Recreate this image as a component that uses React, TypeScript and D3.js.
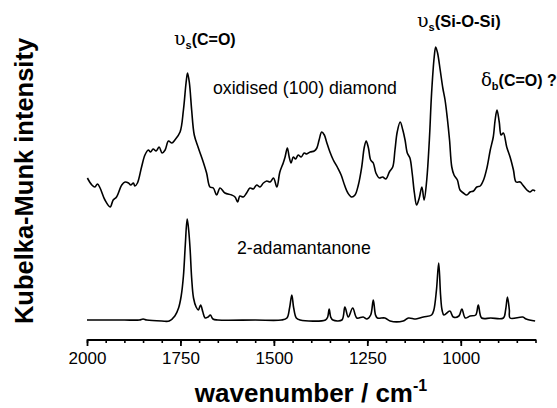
import React, { useRef, useEffect } from 'react';
import * as d3 from 'd3';

// wavenumbers (cm-1) and Kubelka-Munk intensities (arb. units, offset)
const diamondWn = [1999, 1987, 1979, 1972, 1965, 1952, 1938, 1930, 1921, 1907, 1898, 1889, 1883, 1876, 1872, 1865, 1854, 1845, 1836, 1830, 1823, 1815, 1807, 1799, 1791, 1782, 1773, 1765, 1751, 1742, 1735, 1731, 1726, 1720, 1713, 1702, 1689, 1680, 1671, 1662, 1653, 1644, 1631, 1613, 1604, 1597, 1591, 1582, 1573, 1564, 1555, 1546, 1537, 1528, 1519, 1510, 1501, 1492, 1484, 1475, 1470, 1464, 1459, 1454, 1448, 1442, 1435, 1427, 1419, 1412, 1403, 1392, 1385, 1379, 1372, 1365, 1359, 1350, 1341, 1329, 1320, 1311, 1302, 1292, 1283, 1274, 1265, 1258, 1253, 1247, 1241, 1234, 1227, 1218, 1209, 1200, 1191, 1182, 1176, 1170, 1162, 1155, 1149, 1143, 1136, 1130, 1124, 1118, 1111, 1104, 1098, 1091, 1084, 1078, 1071, 1067, 1062, 1055, 1048, 1042, 1036, 1030, 1024, 1018, 1009, 1002, 993, 984, 975, 966, 957, 948, 939, 930, 921, 913, 908, 903, 897, 892, 886, 877, 868, 859, 852, 841, 834, 823, 815, 807, 801];
const diamondKM = [1.62, 1.55, 1.53, 1.56, 1.52, 1.40, 1.33, 1.40, 1.43, 1.55, 1.58, 1.57, 1.55, 1.57, 1.54, 1.57, 1.73, 1.85, 1.90, 1.88, 1.91, 1.89, 1.93, 1.87, 1.90, 1.99, 1.97, 2.00, 2.08, 2.30, 2.57, 2.67, 2.57, 2.30, 2.05, 1.92, 1.78, 1.67, 1.53, 1.52, 1.45, 1.52, 1.47, 1.45, 1.43, 1.38, 1.44, 1.43, 1.47, 1.52, 1.51, 1.55, 1.53, 1.57, 1.59, 1.58, 1.62, 1.53, 1.68, 1.77, 1.83, 1.92, 1.83, 1.77, 1.83, 1.81, 1.85, 1.83, 1.87, 1.86, 1.88, 1.89, 1.92, 2.00, 2.08, 2.05, 1.98, 1.88, 1.80, 1.72, 1.65, 1.55, 1.47, 1.43, 1.45, 1.55, 1.73, 1.93, 1.99, 1.92, 1.80, 1.77, 1.67, 1.62, 1.63, 1.61, 1.68, 1.73, 1.90, 2.08, 2.18, 2.10, 2.00, 1.87, 1.82, 1.67, 1.47, 1.35, 1.42, 1.53, 1.40, 1.60, 2.00, 2.47, 2.83, 2.93, 2.87, 2.70, 2.52, 2.40, 2.22, 2.00, 1.73, 1.65, 1.60, 1.50, 1.47, 1.45, 1.48, 1.49, 1.53, 1.54, 1.60, 1.72, 1.90, 2.03, 2.20, 2.30, 2.18, 2.05, 2.07, 1.93, 1.83, 1.70, 1.58, 1.58, 1.55, 1.50, 1.48, 1.50, 1.49];

const adamWn = [2000, 1950, 1900, 1860, 1850, 1840, 1800, 1780, 1765, 1755, 1748, 1742, 1737, 1732, 1728, 1724, 1720, 1715, 1708, 1702, 1696, 1690, 1684, 1676, 1670, 1663, 1650, 1550, 1480, 1465, 1458, 1452, 1447, 1440, 1430, 1362, 1356, 1352, 1348, 1342, 1318, 1310, 1301, 1289, 1278, 1261, 1251, 1241, 1234, 1228, 1223, 1203, 1189, 1154, 1140, 1120, 1100, 1078, 1072, 1065, 1059, 1054, 1050, 1045, 1029, 1020, 1005, 997, 988, 975, 960, 953, 944, 920, 886, 880, 875, 870, 868, 834, 825, 801];
const adamKM = [0.20, 0.20, 0.20, 0.20, 0.21, 0.20, 0.19, 0.19, 0.24, 0.32, 0.44, 0.64, 0.95, 1.21, 1.10, 0.90, 0.62, 0.42, 0.33, 0.30, 0.35, 0.28, 0.22, 0.23, 0.25, 0.21, 0.20, 0.20, 0.20, 0.22, 0.32, 0.45, 0.32, 0.22, 0.20, 0.20, 0.23, 0.31, 0.23, 0.20, 0.20, 0.33, 0.23, 0.32, 0.22, 0.23, 0.21, 0.25, 0.40, 0.25, 0.22, 0.22, 0.19, 0.19, 0.22, 0.21, 0.23, 0.25, 0.30, 0.50, 0.77, 0.45, 0.30, 0.25, 0.29, 0.23, 0.24, 0.31, 0.22, 0.24, 0.25, 0.35, 0.22, 0.22, 0.22, 0.30, 0.43, 0.30, 0.22, 0.23, 0.21, 0.19];

const majorTicks = [2000, 1750, 1500, 1250, 1000];
const minorTicks = d3.range(2000, 799, -50);

const font = "'Liberation Sans', Arial, sans-serif";
const greek = "'DejaVu Serif', 'Liberation Serif', serif";

const Chart = () => {
    const svgref = useRef(null);

    useEffect(() => {
        const svg = d3.select(svgref.current);
        svg.selectAll('*').remove();

        const x = d3.scaleLinear().domain([2000, 800]).range([87, 535.5]);
        const y = d3.scaleLinear().domain([0, 3]).range([340, 40]);

        const line = d3.line()
            .x((d) => x(d[0]))
            .y((d) => y(d[1]))
            .curve(d3.curveCatmullRom.alpha(0.5));

        const top = diamondWn.map((w, i) => [w, diamondKM[i]]);
        const bottom = adamWn.map((w, i) => [w, adamKM[i]]);

        [top, bottom].forEach((s) => {
            svg.append('path')
                .datum(s)
                .attr('d', line)
                .attr('fill', 'none')
                .attr('stroke', '#000')
                .attr('stroke-width', 1.6)
                .attr('stroke-linejoin', 'round');
        });

        // minor ticks
        const minor = svg.append('g')
            .attr('transform', 'translate(0,339.5)')
            .call(d3.axisBottom(x).tickValues(minorTicks).tickSize(3.5).tickFormat(() => ''));
        minor.select('.domain').remove();
        minor.selectAll('line').attr('stroke-width', 1.6);

        const axis = svg.append('g')
            .attr('transform', 'translate(0,339.5)')
            .call(d3.axisBottom(x).tickValues(majorTicks).tickSize(6.5).tickSizeOuter(0).tickPadding(6).tickFormat(d3.format('d')));
        axis.select('.domain').attr('stroke-width', 2);
        axis.selectAll('line').attr('stroke-width', 1.8);
        axis.selectAll('text')
            .attr('font-family', font)
            .attr('font-size', 17)
            .attr('fill', '#000');

    }, []);

    return (
        <svg ref={svgref} width={557} height={408}
            style={{ position: 'absolute', left: 0, top: 0, background: '#fff' }} />
    );
};

const Labels = () => (
    <svg width={557} height={408} style={{ position: 'absolute', left: 0, top: 0, pointerEvents: 'none' }}>
        <text x={311} y={402} textAnchor="middle" fontFamily={font} fontWeight="bold" fontSize={26}>
            wavenumber / cm<tspan dy={-11} fontSize={16}>-1</tspan>
        </text>
        <text transform="translate(33,181) rotate(-90)" textAnchor="middle" fontFamily={font} fontWeight="bold" fontSize={25.5}>
            Kubelka-Munk intensity
        </text>
        <text x={174} y={45} fontFamily={font} fontWeight="bold" fontSize={16}>
            <tspan fontFamily={greek} fontWeight="normal" fontSize={19}>υ</tspan>
            <tspan dy={4} fontSize={11}>s</tspan>
            <tspan dy={-4}>(C=O)</tspan>
        </text>
        <text x={417} y={27} fontFamily={font} fontWeight="bold" fontSize={16.5}>
            <tspan fontFamily={greek} fontWeight="normal" fontSize={19}>υ</tspan>
            <tspan dy={4} fontSize={11}>s</tspan>
            <tspan dy={-4}>(Si-O-Si)</tspan>
        </text>
        <text x={481} y={86} fontFamily={font} fontWeight="bold" fontSize={16}>
            <tspan fontFamily={greek} fontWeight="normal" fontSize={18}>δ</tspan>
            <tspan dy={4} fontSize={11}>b</tspan>
            <tspan dy={-4}>(C=O) ?</tspan>
        </text>
        <text x={213} y={94} fontFamily={font} fontSize={17.7}>oxidised (100) diamond</text>
        <text x={237} y={254} fontFamily={font} fontSize={17.7}>2-adamantanone</text>
    </svg>
);

const App = () => (
    <div style={{ position: 'absolute', left: 0, top: 0, width: 557, height: 408 }}>
        <Chart />
        <Labels />
    </div>
);

export default App;
